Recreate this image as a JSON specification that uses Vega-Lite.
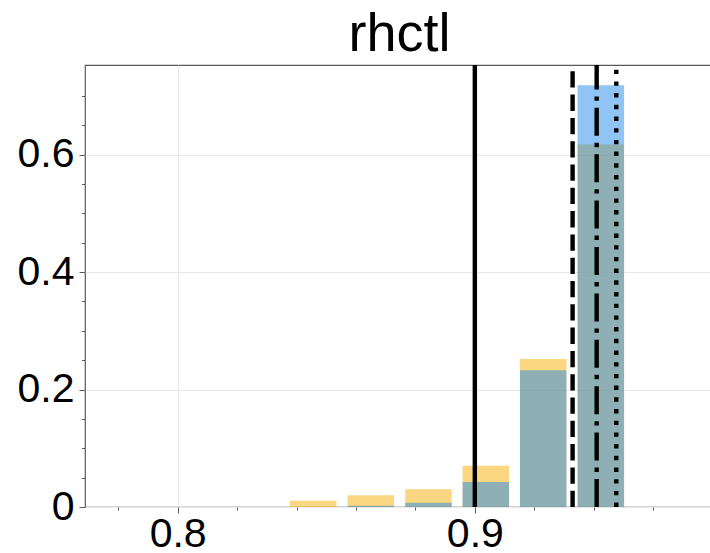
{
  "$schema": "https://vega.github.io/schema/vega-lite/v6.json",
  "autosize": {"type": "none"},
  "padding": {"left": 85, "top": 65, "right": 0, "bottom": 46},
  "width": 629,
  "height": 442,
  "background": "white",
  "config": {
    "view": {"stroke": "#5a5a5a", "strokeWidth": 1.2},
    "font": "Liberation Sans",
    "axis": {"labelFont": "Liberation Sans", "labelColor": "black", "tickColor": "#5a5a5a", "domain": false, "gridColor": "#e8e8e8", "gridWidth": 1, "title": null}
  },
  "title": {"text": "rhctl", "fontSize": 54, "font": "Liberation Sans", "fontWeight": "normal", "color": "black", "anchor": "middle", "frame": "group", "offset": 1},
  "datasets": {
    "bars": [
      {"bin_mid": 0.8456, "series": "other", "share": 0.0108},
      {"bin_mid": 0.8650, "series": "other", "share": 0.0200},
      {"bin_mid": 0.8844, "series": "other", "share": 0.0301},
      {"bin_mid": 0.9037, "series": "other", "share": 0.0703},
      {"bin_mid": 0.9230, "series": "other", "share": 0.2519},
      {"bin_mid": 0.9424, "series": "other", "share": 0.6170},
      {"bin_mid": 0.8456, "series": "rhctl", "share": 0.0},
      {"bin_mid": 0.8650, "series": "rhctl", "share": 0.0022},
      {"bin_mid": 0.8844, "series": "rhctl", "share": 0.0073},
      {"bin_mid": 0.9037, "series": "rhctl", "share": 0.0425},
      {"bin_mid": 0.9230, "series": "rhctl", "share": 0.2330},
      {"bin_mid": 0.9424, "series": "rhctl", "share": 0.7180}
    ],
    "lines": [
      {"stat": "solid", "value": 0.9},
      {"stat": "dashed", "value": 0.9329},
      {"stat": "dashdot", "value": 0.9410},
      {"stat": "dotted", "value": 0.9476}
    ]
  },
  "layer": [
    {
      "data": {"name": "bars"},
      "mark": {"type": "bar", "width": 46.5, "opacity": 0.5},
      "encoding": {
        "x": {"field": "bin_mid", "type": "quantitative", "scale": {"domain": [0.7705, 0.9788], "nice": false, "zero": false},
          "axis": {"values": [0.8, 0.9], "format": ".1f", "orient": "bottom", "grid": true, "tickSize": 6, "tickWidth": 1, "labelFontSize": 41, "labelBaseline": "alphabetic", "labelPadding": 33}},
        "y": {"field": "share", "type": "quantitative", "stack": null, "scale": {"domain": [0, 0.7525], "nice": false},
          "axis": {"values": [0, 0.2, 0.4, 0.6], "format": ".1~f", "orient": "left", "grid": true, "tickSize": 6, "tickWidth": 1, "labelFontSize": 41, "labelBaseline": "middle", "labelPadding": 5}},
        "color": {"field": "series", "type": "nominal", "scale": {"domain": ["other", "rhctl"], "range": ["#f5af01", "#2189e9"]}, "legend": null}
      }
    },
    {
      "data": {"name": "lines"},
      "mark": {"type": "rule", "color": "black", "strokeWidth": 4.4, "strokeCap": "butt"},
      "encoding": {
        "x": {"field": "value", "type": "quantitative",
          "axis": {"values": [0.78, 0.82, 0.84, 0.86, 0.88, 0.92, 0.94, 0.96], "orient": "bottom", "labels": false, "grid": false, "tickSize": 3, "tickWidth": 1}},
        "y": {"datum": 0, "type": "quantitative",
          "axis": {"values": [0.05, 0.1, 0.15, 0.25, 0.3, 0.35, 0.45, 0.5, 0.55, 0.65, 0.7], "orient": "left", "labels": false, "grid": false, "tickSize": 3.5, "tickWidth": 1}},
        "y2": {"datum": 0.7525},
        "strokeDash": {"field": "stat", "type": "nominal", "scale": {"domain": ["solid", "dashed", "dashdot", "dotted"], "range": [[1, 0], [16.3, 7], [28, 7, 4.4, 7], [4.4, 7.3]]}, "legend": null}
      }
    }
  ],
  "resolve": {"axis": {"x": "independent", "y": "independent"}}
}
